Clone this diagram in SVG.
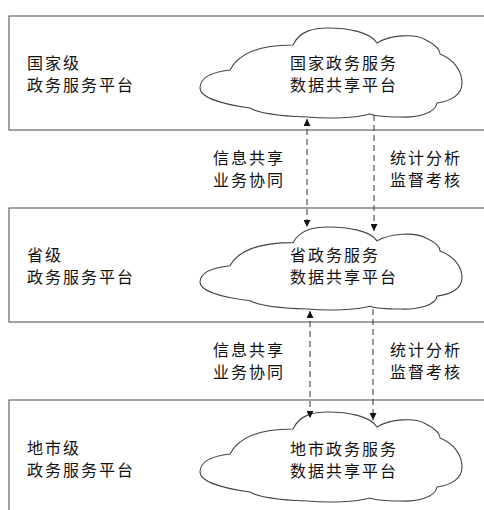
<svg xmlns="http://www.w3.org/2000/svg" xmlns:xlink="http://www.w3.org/1999/xlink" width="484" height="510" viewBox="0 0 484 510">
<style>
.box{fill:none;stroke:#666;stroke-width:1.2}
.cloud{fill:#fff;stroke:#444;stroke-width:1.1}
.t{font-family:"Noto Sans CJK SC","Noto Sans",sans-serif;font-size:16px;letter-spacing:2px;fill:#111}
.dash{fill:none;stroke:#333;stroke-width:1;stroke-dasharray:6,4}
</style>
<defs>
<path id="cloudShape" vector-effect="non-scaling-stroke" d="M 230,70 C 238,54 258,45 293,45 C 300,30 315,28 328,28 C 348,28 370,32 377,43 C 390,35 415,33 426,40 C 434,44 440,48 440,54 C 455,60 462,72 462,83 C 462,94 452,101 437,103 C 436,112 420,118 400,117 C 385,117 375,116 370,114 C 356,118 330,119 307,117 C 280,116 258,113 250,108 C 220,104 200,97 200,88 C 200,78 212,72 230,70 Z"/>
<marker id="ah" viewBox="0 0 8 8" refX="8" refY="4" markerWidth="7" markerHeight="7" markerUnits="userSpaceOnUse" orient="auto-start-reverse">
<path d="M0,0 L8,4 L0,8 Z" fill="#111"/>
</marker>
</defs>

<g id="national">
<rect class="box" x="9" y="16" width="490" height="114"/>
<text class="t" x="27" y="68.5">国家级<tspan x="27" dy="22">政务服务平台</tspan></text>
</g>
<g id="provincial">
<rect class="box" x="9" y="208" width="490" height="114"/>
<text class="t" x="27" y="260.5">省级<tspan x="27" dy="22">政务服务平台</tspan></text>
</g>
<g id="city">
<rect class="box" x="9" y="400" width="490" height="130"/>
<text class="t" x="27" y="453.5">地市级<tspan x="27" dy="22">政务服务平台</tspan></text>
</g>

<g id="cloud-national">
<use xlink:href="#cloudShape" class="cloud"/>
<text class="t" x="290" y="68.5">国家政务服务<tspan x="290" dy="22">数据共享平台</tspan></text>
</g>
<g id="cloud-provincial">
<use xlink:href="#cloudShape" class="cloud" transform="translate(0,227) scale(1,0.922) translate(0,-28)"/>
<text class="t" x="290" y="260.5">省政务服务<tspan x="290" dy="22">数据共享平台</tspan></text>
</g>
<g id="cloud-city">
<use xlink:href="#cloudShape" class="cloud" transform="translate(0,384)"/>
<text class="t" x="290" y="454.5">地市政务服务<tspan x="290" dy="22">数据共享平台</tspan></text>
</g>

<g id="labels">
<text class="t" x="213" y="164">信息共享<tspan x="213" dy="22">业务协同</tspan></text>
<text class="t" x="390" y="164">统计分析<tspan x="390" dy="22">监督考核</tspan></text>
<text class="t" x="213" y="356">信息共享<tspan x="213" dy="22">业务协同</tspan></text>
<text class="t" x="390" y="356">统计分析<tspan x="390" dy="22">监督考核</tspan></text>
</g>

<g id="connectors">
<line class="dash" x1="307" y1="119" x2="307" y2="227" marker-start="url(#ah)" marker-end="url(#ah)"/>
<line class="dash" x1="374" y1="115" x2="374" y2="231" marker-end="url(#ah)"/>
<line class="dash" x1="310" y1="311" x2="310" y2="418" marker-start="url(#ah)" marker-end="url(#ah)"/>
<line class="dash" x1="373" y1="309" x2="373" y2="420" marker-end="url(#ah)"/>
</g>
</svg>
